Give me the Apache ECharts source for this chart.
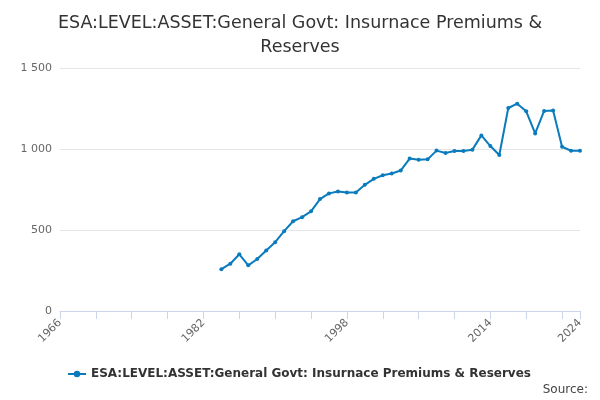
<!DOCTYPE html>
<html><head><meta charset="utf-8">
<script src="https://cdn.jsdelivr.net/npm/echarts@6/dist/echarts.min.js"></script>
<style>body{margin:0}#c{width:600px;height:400px}</style></head>
<body><div id="c"></div>
<script>
var seriesName = 'ESA:LEVEL:ASSET:General Govt: Insurnace Premiums & Reserves';
var years = [];
for (var y = 1984; y <= 2024; y++) years.push(y);
var values = [258, 292, 350, 282, 321, 374, 425, 493, 554, 579, 615, 691, 726, 738, 732, 732,
  779, 816, 838, 849, 867, 941, 933, 936, 990, 975, 988, 988, 996, 1084, 1018, 963,
  1253, 1280, 1233, 1096, 1235, 1237, 1014, 989, 989];
var labelYears = [1966, 1982, 1998, 2014, 2024];

var chart = echarts.init(document.getElementById('c'));
chart.setOption({
  title: {
    text: 'ESA:LEVEL:ASSET:General Govt: Insurnace Premiums &\nReserves',
    left: 'center', top: 6,
    textStyle: { fontFamily: 'DejaVu Sans', fontSize: 17.5, fontWeight: 'normal', color: '#333', lineHeight: 24 }
  },
  graphic: [{ type: 'text', right: 12, bottom: 4, style: { text: 'Source:', fontFamily: 'DejaVu Sans', fontSize: 12, fill: '#444' } }],
  legend: {
    bottom: 15, left: 62, itemWidth: 18, itemHeight: 8, itemGap: 6,
    textStyle: { fontFamily: 'DejaVu Sans', fontSize: 12, fontWeight: 'bold', color: '#333' },
    data: [seriesName]
  },
  grid: { left: 60, right: 20, top: 68, bottom: 89, containLabel: false },
  xAxis: {
    type: 'value', min: 1966, max: 2024, interval: 4,
    axisLine: { lineStyle: { color: '#ccd6eb' } },
    axisTick: { show: true, length: 8, lineStyle: { color: '#ccd6eb' } },
    splitLine: { show: false },
    axisLabel: {
      rotate: 45, color: '#666', fontFamily: 'DejaVu Sans', fontSize: 11, showMaxLabel: true, margin: 10,
      formatter: function (v) { return labelYears.indexOf(v) >= 0 ? String(v) : ''; }
    }
  },
  yAxis: {
    type: 'value', min: 0, max: 1500, interval: 500,
    axisLine: { show: false }, axisTick: { show: false },
    splitLine: { lineStyle: { color: '#e6e6e6' } },
    axisLabel: {
      color: '#666', fontFamily: 'DejaVu Sans', fontSize: 11,
      formatter: function (v) { return v >= 1000 ? Math.floor(v / 1000) + ' ' + String(v % 1000).padStart(3, '0') : String(v); }
    }
  },
  series: [{
    name: seriesName, type: 'line',
    data: years.map(function (y, i) { return [y, values[i]]; }),
    symbol: 'circle', symbolSize: 4,
    lineStyle: { color: '#0a7bbd', width: 2 },
    itemStyle: { color: '#0a7bbd' }
  }]
});
</script></body></html>
